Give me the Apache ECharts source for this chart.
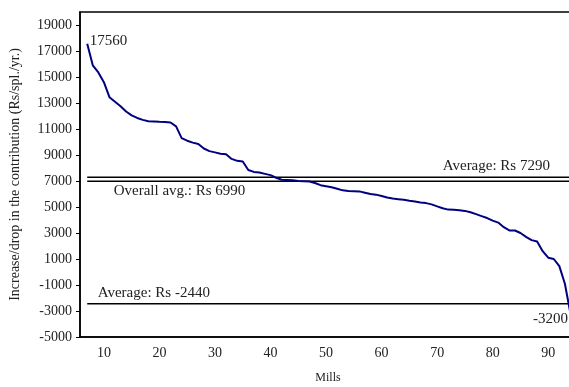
<!DOCTYPE html>
<html>
<head>
<meta charset="utf-8">
<script src="https://cdn.jsdelivr.net/npm/echarts@6/dist/echarts.min.js"></script>
<style>
  html, body { margin: 0; padding: 0; background: #fff; }
  #chart { width: 569px; height: 387px; }
</style>
</head>
<body>
<div id="chart"></div>
<script>
// Mills ranked by change in contribution (Rs/spl./yr.)
const mills = [
  7, 8, 9, 10, 11, 12, 13, 14, 15, 16, 17, 18, 19, 20, 21, 22, 23, 24, 25, 26,
  27, 28, 29, 30, 31, 32, 33, 34, 35, 36, 37, 38, 39, 40, 41, 42, 43, 44, 45, 46,
  47, 48, 49, 50, 51, 52, 53, 54, 55, 56, 57, 58, 59, 60, 61, 62, 63, 64, 65, 66,
  67, 68, 69, 70, 71, 72, 73, 74, 75, 76, 77, 78, 79, 80, 81, 82, 83, 84, 85, 86,
  87, 88, 89, 90, 91, 92, 93, 94
];
const contribution = [
  17560, 15900, 15350, 14600, 13450, 13100, 12750, 12350, 12050, 11850,
  11700, 11600, 11580, 11550, 11530, 11500, 11200, 10300, 10100, 9950,
  9850, 9500, 9300, 9200, 9100, 9050, 8700, 8550, 8500, 7850,
  7700, 7650, 7550, 7450, 7250, 7100, 7080, 7050, 7000, 6980,
  6960, 6850, 6680, 6600, 6520, 6400, 6280, 6240, 6220, 6200,
  6100, 6000, 5950, 5850, 5730, 5650, 5600, 5550, 5480, 5420,
  5350, 5300, 5200, 5050, 4900, 4800, 4780, 4750, 4700, 4600,
  4450, 4300, 4150, 3950, 3800, 3450, 3200, 3190, 3000, 2700,
  2450, 2340, 1600, 1100, 1000, 450, -900, -3200
];

// Reference averages
const avgGain = 7290;
const avgOverall = 6990;
const avgLoss = -2440;

const yTicks = [-5000, -3000, -1000, 1000, 3000, 5000, 7000, 9000, 11000, 13000, 15000, 17000, 19000];
const xTicks = [10, 20, 30, 40, 50, 60, 70, 80, 90];

const FONT = 'Liberation Serif';
const TEXT = '#222';
const NOTE_SIZE = 15;
const first = mills[0];
const last = mills[mills.length - 1];

// invisible point marker that only carries a text label
function labelled(value, text, position, offset) {
  return {
    value,
    symbol: 'circle',
    symbolSize: 1,
    itemStyle: { color: 'rgba(0,0,0,0)', borderWidth: 0 },
    label: { show: true, position, distance: 0, offset, formatter: text,
      color: TEXT, fontFamily: FONT, fontSize: NOTE_SIZE }
  };
}
function plain(value) {
  return { value, symbol: 'none' };
}

const curveData = mills.map((m, i) => {
  if (i === 0) return labelled([m, contribution[i]], String(contribution[i]), 'right', [2, -3]);
  if (i === mills.length - 1) return labelled([m, contribution[i]], String(contribution[i]), 'left', [-2, 5]);
  return plain([m, contribution[i]]);
});

function avgLine(value, text, atStart, offset) {
  return {
    type: 'line',
    silent: true,
    showSymbol: true,
    showAllSymbol: true,
    z: 1,
    lineStyle: { color: '#000', width: 1.5 },
    data: atStart
      ? [labelled([first, value], text, 'right', offset), plain([last, value])]
      : [plain([first, value]), labelled([last, value], text, 'left', offset)]
  };
}

const chart = echarts.init(document.getElementById('chart'), null, { renderer: 'canvas' });
chart.setOption({
  animation: false,
  backgroundColor: '#fff',
  textStyle: { fontFamily: FONT },
  grid: {
    left: 80, top: 12, width: 496, height: 325,
    outerBoundsMode: 'none',
    containLabel: false,
    show: true, borderColor: '#000', borderWidth: 1.5, backgroundColor: 'transparent'
  },
  xAxis: {
    type: 'value',
    min: 5.7, max: 95,
    name: 'Mills',
    nameLocation: 'middle',
    nameGap: 35,
    nameTextStyle: { color: TEXT, fontFamily: FONT, fontSize: 12 },
    axisLine: { show: true, onZero: false, lineStyle: { color: '#000', width: 1.5 } },
    axisTick: { show: false },
    axisLabel: { customValues: xTicks, color: TEXT, fontFamily: FONT, fontSize: 14, margin: 9 },
    splitLine: { show: false }
  },
  yAxis: {
    type: 'value',
    min: -5000, max: 20000,
    name: 'Increase/drop in the contribution (Rs/spl./yr.)',
    nameLocation: 'middle',
    nameGap: 58,
    nameTextStyle: { color: TEXT, fontFamily: FONT, fontSize: 14 },
    axisLine: { show: true, onZero: false, lineStyle: { color: '#000', width: 1.5 } },
    axisTick: { show: true, customValues: yTicks, inside: false, length: 4, lineStyle: { color: '#000' } },
    axisLabel: { customValues: yTicks, formatter: v => String(v), color: TEXT, fontFamily: FONT, fontSize: 14, margin: 8 },
    splitLine: { show: false }
  },
  series: [
    avgLine(avgGain, 'Average: Rs ' + avgGain, false, [-20, -11]),
    avgLine(avgOverall, 'Overall avg.: Rs ' + avgOverall, true, [26, 10]),
    avgLine(avgLoss, 'Average: Rs ' + avgLoss, true, [10, -11]),
    {
      type: 'line',
      silent: true,
      showSymbol: true,
      showAllSymbol: true,
      z: 3,
      lineStyle: { color: '#000080', width: 2 },
      data: curveData
    }
  ]
});
</script>
</body>
</html>
